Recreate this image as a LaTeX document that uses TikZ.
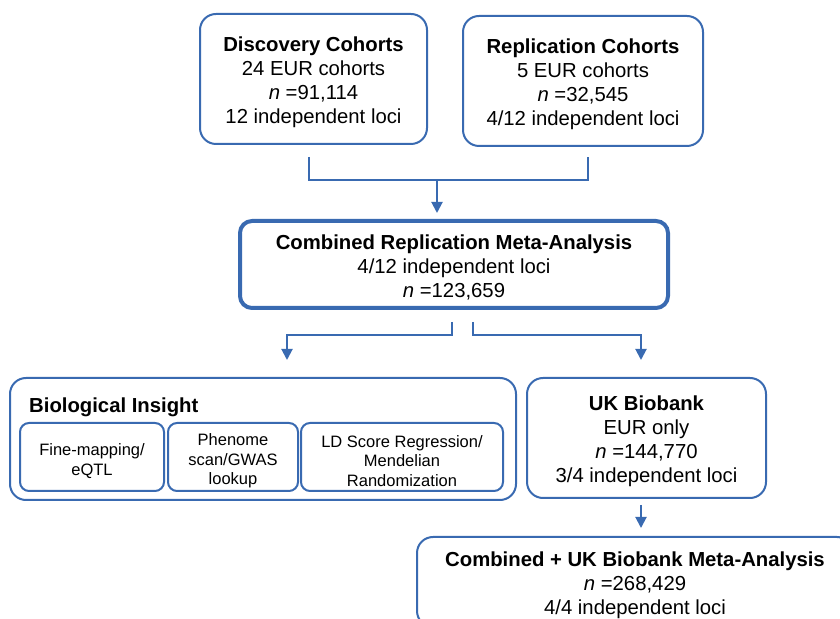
\documentclass[tikz,border=0pt]{standalone}
\usepackage{fontspec}
\setmainfont{Liberation Sans}
\usetikzlibrary{arrows.meta,calc}
\definecolor{bl}{RGB}{57,106,177}
\newcommand\tstrut{\rule{0pt}{21pt}}
\newcommand\istrut{\rule{0pt}{20pt}}
\tikzset{
  box/.style={draw=bl, line width=2pt, rounded corners=16pt, align=center, inner sep=0pt,
    font=\fontsize{20.3}{24.2}\selectfont},
  thickbox/.style={box, line width=4pt, rounded corners=12pt},
  inbox/.style={draw=bl, line width=2pt, rounded corners=9pt, align=center, inner sep=0pt,
    font=\fontsize{16.5}{19.5}\selectfont},
  conn/.style={draw=bl, line width=2pt},
  arr/.style={conn, -{Triangle[length=11pt,width=11pt]}}
}
\begin{document}
\begin{tikzpicture}[x=1pt,y=1pt]
\useasboundingbox (0,0) rectangle (840,618);
\clip (0,0) rectangle (840,618);
\node[box, minimum width=227pt, minimum height=130pt] (disc) at (313.5,539)
  {\tstrut\textbf{Discovery Cohorts}\\24 EUR cohorts\\\textit{n} =91,114\\12 independent loci};
\node[box, minimum width=240pt, minimum height=130pt] (repl) at (583,537)
  {\tstrut\textbf{Replication Cohorts}\\5 EUR cohorts\\\textit{n} =32,545\\4/12 independent loci};
\node[thickbox, minimum width=428pt, minimum height=87pt] (comb) at (454,353.5)
  {\tstrut\textbf{Combined Replication Meta-Analysis}\\4/12 independent loci\\\textit{n} =123,659};
\node[box, minimum width=506pt, minimum height=122pt] (bio) at (263,179) {};
\node[anchor=west, font=\fontsize{20.3}{24}\selectfont\bfseries, inner sep=0pt] (biot) at (29,211) {Biological Insight};
\node[inbox, minimum width=144pt, minimum height=68pt] (fm) at (92,161) {\istrut Fine-mapping/\\eQTL};
\node[inbox, minimum width=130pt, minimum height=68pt] (ph) at (233,161) {\istrut Phenome\\scan/GWAS\\lookup};
\node[inbox, minimum width=202pt, minimum height=68pt] (ld) at (402,161) {\istrut LD Score Regression/\\Mendelian\\Randomization};
\node[box, minimum width=239pt, minimum height=120pt] (uk) at (646.5,180)
  {\tstrut\textbf{UK Biobank}\\EUR only\\\textit{n} =144,770\\3/4 independent loci};
\node[box, minimum width=436pt, minimum height=90pt] (fin) at (635,36)
  {\tstrut\textbf{Combined + UK Biobank Meta-Analysis}\\\textit{n} =268,429\\4/4 independent loci};
% merge connector
\coordinate (d1) at (309,461);
\coordinate (r1) at (588,461);
\coordinate (m) at (437,438);
\coordinate (mt) at (437,405);
\draw[conn] (d1) |- (m) -| (r1);
\draw[arr] (m) -- (mt);
% split connectors
\coordinate (s1) at (452,296);
\coordinate (s2) at (473,296);
\coordinate (bt) at (287,258);
\coordinate (ut) at (641,258);
\draw[arr] (s1) |- ($(bt)+(0,25)$) -- (bt);
\draw[arr] (s2) |- ($(ut)+(0,25)$) -- (ut);
% UK to final
\coordinate (u1) at (641,113);
\coordinate (f1) at (641,90);
\draw[arr] (u1) -- (f1);
\end{tikzpicture}
\end{document}
